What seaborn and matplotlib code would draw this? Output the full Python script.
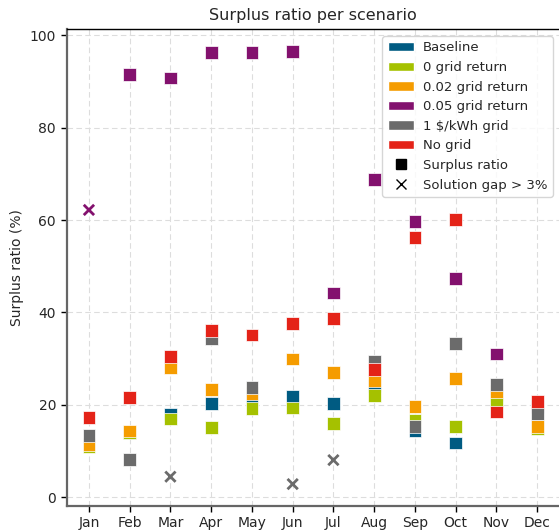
import numpy as np
import pandas as pd
import matplotlib
matplotlib.use("Agg")
import matplotlib.pyplot as plt
import seaborn as sns
from matplotlib.patches import Patch
from matplotlib.lines import Line2D

months = ["Jan", "Feb", "Mar", "Apr", "May", "Jun", "Jul", "Aug", "Sep", "Oct", "Nov", "Dec"]
scenarios = ["Baseline", "0 grid return", "0.02 grid return", "0.05 grid return", "1 $/kWh grid", "No grid"]
colors = ["#005b82", "#a5c100", "#f59c00", "#83116e", "#6b6b6b", "#e42318"]

baseline = [11.5, 14.0, 17.8, 20.3, 21.8, 21.8, 20.2, 24.2, 14.3, 11.7, 22.2, 15.0]
grid_return_0 = [11.0, 13.9, 16.9, 15.0, 19.1, 19.3, 16.0, 22.0, 16.7, 15.2, 20.8, 14.9]
grid_return_002 = [11.3, 14.3, 28.0, 23.3, 22.4, 29.9, 26.9, 25.3, 19.6, 25.6, 22.8, 15.3]
grid_return_005 = [62.2, 91.5, 90.8, 96.3, 96.3, 96.6, 44.2, 68.8, 59.7, 47.3, 31.0, 19.6]
grid_1usd = [13.3, 8.2, 4.4, 34.3, 23.8, 2.8, 8.0, 29.4, 15.2, 33.2, 24.3, 18.1]
no_grid = [17.2, 21.6, 30.5, 36.0, 35.1, 37.6, 38.6, 27.7, 56.2, 60.1, 18.4, 20.7]

# solution gap > 3% flags (scenario, month)
gap_flags = [("0.05 grid return", "Jan"), ("1 $/kWh grid", "Mar"),
             ("1 $/kWh grid", "Jun"), ("1 $/kWh grid", "Jul")]

series = [baseline, grid_return_0, grid_return_002, grid_return_005, grid_1usd, no_grid]
rows = []
for sc, vals in zip(scenarios, series):
    for m, v in zip(months, vals):
        rows.append({"scenario": sc, "month": m, "value": v,
                     "gap": (sc, m) in gap_flags})
df = pd.DataFrame(rows)

sns.set_style("white")
plt.rcParams['font.family'] = ['DejaVu Sans']
fig = plt.figure(figsize=(5.59, 5.31), dpi=100)
ax = fig.add_axes([0.119, 0.0475, 0.882, 0.897])

palette = dict(zip(scenarios, colors))
sq = df[~df["gap"]]
gp = df[df["gap"]]
sns.scatterplot(data=sq, x="month", y="value", hue="scenario", hue_order=scenarios,
                palette=palette, marker="s", s=85, edgecolor="white", linewidth=0.5,
                ax=ax, legend=False, zorder=3)
sns.scatterplot(data=gp, x="month", y="value", hue="scenario", hue_order=scenarios,
                palette=palette, marker="x", s=55, linewidth=2,
                ax=ax, legend=False, zorder=3)

ax.set_xticks(range(len(months)))
ax.set_xticklabels(months)
ax.set_xlim(-0.55, 11.55)
ax.set_ylim(-1.9, 101.3)
ax.set_yticks([0, 20, 40, 60, 80, 100])
ax.grid(True, linestyle=(0, (5, 3)), color="#dddddd", linewidth=0.8)
ax.set_axisbelow(True)
ax.set_xlabel("")
ax.set_ylabel("Surplus ratio (%)", fontsize=10)
ax.set_title("Surplus ratio per scenario", fontsize=11.5, pad=7)
ax.tick_params(axis="both", which="both", length=4, width=1, labelsize=10,
               left=True, bottom=True, color="black")
for side in ["left", "bottom"]:
    ax.spines[side].set_color("#666666")
    ax.spines[side].set_linewidth(1.6)
for side in ["top", "right"]:
    ax.spines[side].set_color("black")
    ax.spines[side].set_linewidth(1.0)

handles = [Patch(facecolor=c, label=s) for s, c in zip(scenarios, colors)]
handles.append(Line2D([], [], marker="s", color="black", linestyle="none", markersize=6.5, label="Surplus ratio"))
handles.append(Line2D([], [], marker="x", color="black", linestyle="none", markersize=6.5, label="Solution gap > 3%"))
ax.legend(handles=handles, loc="upper right", fontsize=9.5, frameon=True,
          framealpha=0.8, edgecolor="#cccccc", bbox_to_anchor=(1.0, 1.0),
          labelspacing=0.5, handletextpad=0.7)

fig.savefig("out.png", dpi=100)
